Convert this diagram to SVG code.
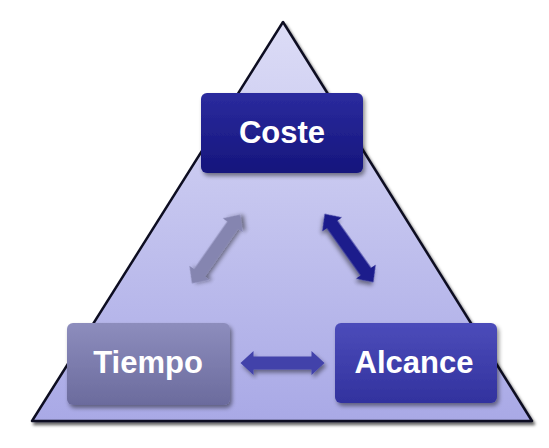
<svg xmlns="http://www.w3.org/2000/svg" width="549" height="448" viewBox="0 0 549 448">
<defs>
<linearGradient id="gTri" x1="0" y1="0" x2="0" y2="1"><stop offset="0" stop-color="#dcdcf6"/><stop offset="1" stop-color="#a9a9e6"/></linearGradient>
<linearGradient id="gCoste" x1="0" y1="0" x2="0" y2="1"><stop offset="0" stop-color="#2b2b9e"/><stop offset="1" stop-color="#15157c"/></linearGradient>
<linearGradient id="gTiempo" x1="0" y1="0" x2="0" y2="1"><stop offset="0" stop-color="#8d8dbd"/><stop offset="1" stop-color="#6b6b9d"/></linearGradient>
<linearGradient id="gAlc" x1="0" y1="0" x2="0" y2="1"><stop offset="0" stop-color="#4c4cba"/><stop offset="1" stop-color="#32329e"/></linearGradient>
<filter id="sh" x="-20%" y="-20%" width="140%" height="140%"><feDropShadow dx="2" dy="3" stdDeviation="2" flood-color="#000" flood-opacity="0.45"/></filter>
<filter id="shT" x="-10%" y="-10%" width="120%" height="120%"><feDropShadow dx="2" dy="3" stdDeviation="1.5" flood-color="#000" flood-opacity="0.6"/></filter>
<path id="dbl" d="M-42,0 L-29,-12 L-29,-6.5 L29,-6.5 L29,-12 L42,0 L29,12 L29,6.5 L-29,6.5 L-29,12 Z"/>
</defs>
<style>
.lbl{font-family:"Liberation Sans",Arial,sans-serif;font-weight:bold;font-size:31px;fill:#ffffff;text-anchor:middle}
</style>
<rect width="549" height="448" fill="#ffffff"/>
<polygon points="283,22 32,421 532,421" fill="url(#gTri)" stroke="#111122" stroke-width="2.5" stroke-linejoin="round" filter="url(#shT)"/>
<g id="connectors">
<use href="#dbl" transform="translate(216,249) rotate(-55)" fill="#8585b0" filter="url(#sh)"/>
<use href="#dbl" transform="translate(349,248) rotate(54.5)" fill="#1c1c8c" filter="url(#sh)"/>
<use href="#dbl" transform="translate(282.5,363)" fill="#4242aa" filter="url(#sh)"/>
</g>
<g id="coste">
<rect x="201" y="93" width="162" height="80" rx="6" fill="url(#gCoste)" filter="url(#sh)"/>
<text class="lbl" x="282" y="143">Coste</text>
</g>
<g id="tiempo">
<rect x="67" y="323" width="163" height="82" rx="6" fill="url(#gTiempo)" filter="url(#sh)"/>
<text class="lbl" x="148" y="373">Tiempo</text>
</g>
<g id="alcance">
<rect x="335" y="323" width="162" height="80" rx="6" fill="url(#gAlc)" filter="url(#sh)"/>
<text class="lbl" x="414" y="373">Alcance</text>
</g>
</svg>
